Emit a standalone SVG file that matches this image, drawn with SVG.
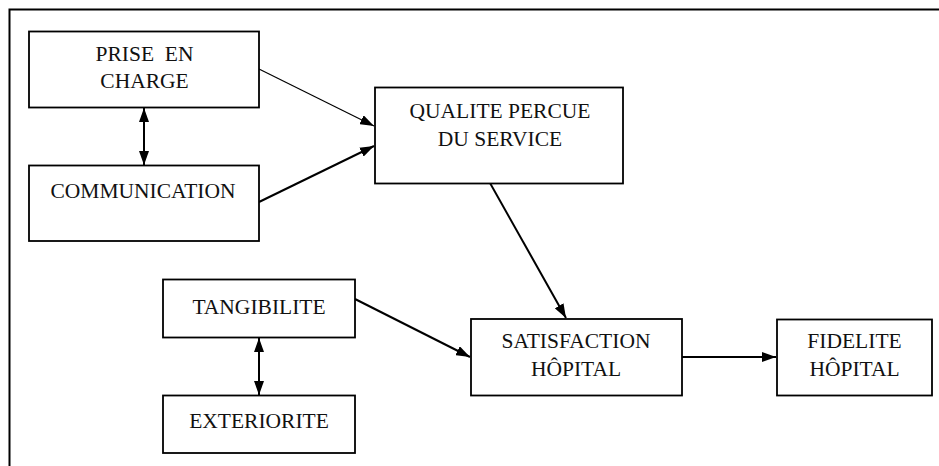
<svg xmlns="http://www.w3.org/2000/svg" width="939" height="466" viewBox="0 0 939 466">
  <style>
    .box { fill: #ffffff; stroke: #000000; stroke-width: 1.8; }
    .lbl { font-family: "Liberation Serif", "Times New Roman", "DejaVu Serif", serif; font-size: 21.5px; fill: #111111; text-anchor: middle; white-space: pre; }
    .link { fill: none; stroke: #000000; stroke-width: 2; }
    .thin { stroke-width: 1.2; }
  </style>
  <defs>
    <marker id="arrow" viewBox="0 0 14 10" refX="14" refY="5" markerWidth="14" markerHeight="10" markerUnits="userSpaceOnUse" orient="auto-start-reverse">
      <path d="M0,0 L14,5 L0,10 z" fill="#000000"/>
    </marker>
  </defs>

  <rect width="939" height="466" fill="#ffffff"/>
  <!-- outer frame (open on the right and bottom) -->
  <path d="M9.5,466 V9.5 H939" fill="none" stroke="#000000" stroke-width="2"/>

  <g id="connectors">
    <line class="link thin" x1="259" y1="69" x2="374" y2="126" marker-end="url(#arrow)"/>
    <line class="link" x1="259" y1="202" x2="374" y2="146" marker-end="url(#arrow)"/>
    <line class="link" x1="144" y1="108" x2="144" y2="165" marker-start="url(#arrow)" marker-end="url(#arrow)"/>
    <line class="link" x1="490" y1="183" x2="566" y2="318" marker-end="url(#arrow)"/>
    <line class="link" x1="355" y1="299" x2="470" y2="357" marker-end="url(#arrow)"/>
    <line class="link" x1="259" y1="338" x2="259" y2="395" marker-start="url(#arrow)" marker-end="url(#arrow)"/>
    <line class="link" x1="682" y1="357" x2="776" y2="357" marker-end="url(#arrow)"/>
  </g>

  <g id="prise-en-charge">
    <rect class="box" x="29" y="31.5" width="230" height="76"/>
    <text class="lbl" x="144.5" y="61">PRISE  EN</text>
    <text class="lbl" x="144.5" y="88">CHARGE</text>
  </g>

  <g id="communication">
    <rect class="box" x="29" y="165.5" width="230" height="75.5"/>
    <text class="lbl" x="143" y="198">COMMUNICATION</text>
  </g>

  <g id="qualite-percue">
    <rect class="box" x="375" y="87.5" width="248" height="96"/>
    <text class="lbl" x="500" y="118">QUALITE PERCUE</text>
    <text class="lbl" x="500" y="145.5">DU SERVICE</text>
  </g>

  <g id="tangibilite">
    <rect class="box" x="163" y="279.5" width="192" height="58"/>
    <text class="lbl" x="259" y="314">TANGIBILITE</text>
  </g>

  <g id="exteriorite">
    <rect class="box" x="163" y="395.5" width="192" height="57.5"/>
    <text class="lbl" x="259" y="428">EXTERIORITE</text>
  </g>

  <g id="satisfaction">
    <rect class="box" x="471" y="319" width="211" height="76.5"/>
    <text class="lbl" x="576" y="348">SATISFACTION</text>
    <text class="lbl" x="576" y="376">HÔPITAL</text>
  </g>

  <g id="fidelite">
    <rect class="box" x="777" y="319.5" width="155" height="76"/>
    <text class="lbl" x="854.5" y="348">FIDELITE</text>
    <text class="lbl" x="854.5" y="376">HÔPITAL</text>
  </g>
</svg>
